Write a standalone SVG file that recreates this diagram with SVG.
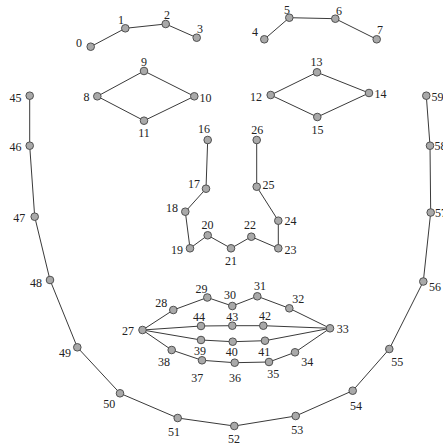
<svg xmlns="http://www.w3.org/2000/svg" width="443" height="448" viewBox="0 0 443 448">
  <style>
    .edge { fill: none; stroke: #3a3a3a; stroke-width: 1; }
    .pt { fill: #a9a9a9; stroke: #505050; stroke-width: 1; }
    .lbl { font-family: "Liberation Serif", "Times New Roman", serif; font-size: 12px; fill: #222; text-anchor: middle; }
    .lbl.s { text-anchor: start; }
  </style>
  <rect width="443" height="448" fill="#fff"/>
  <!-- connectors -->
  <g id="connectors">
    <!-- brows -->
    <polyline class="edge" points="90.7,46.7 125.3,28.3 165.7,24 196.7,37.7"/>
    <polyline class="edge" points="264.3,39.3 289.3,17.7 335.3,18.7 376.7,39.3"/>
    <!-- eyes -->
    <polygon class="edge" points="97.3,96.3 144,71 194.3,96.3 144,120.7"/>
    <polygon class="edge" points="270.7,95 317,72.3 369,93 317.3,117"/>
    <!-- nose -->
    <polyline class="edge" points="207.7,140 206,188.7 185.3,211.7 190,248.3 207.7,235.3 231,248.3 251.3,236.7 278.3,248.3 278.3,220.7 256.7,186.7 256.7,140"/>
    <!-- mouth -->
    <polyline class="edge" points="142.5,330 173.3,310 207.3,297.5 232.3,306 257.3,296.3 289.3,308.3 330,328.3"/>
    <polyline class="edge" points="142.5,330 201,326 232.3,325.7 263.3,325.7 330,328.3"/>
    <polyline class="edge" points="142.5,330 201,340 232.7,341.7 265,340.7 330,328.3"/>
    <polyline class="edge" points="142.5,330 171.7,350 202,360.3 234.7,362.7 269,362 295,352.3 330,328.3"/>
    <!-- jaw -->
    <polyline class="edge" points="29.7,95.7 29.7,145.7 34.7,216.7 50,280 77.3,347.3 120,393.3 177.7,418 234.3,426 295.7,416 352.7,390.7 389.3,349 423.3,281.5 430.7,212.5 430,145.7 426.3,95.7"/>
  </g>
  <g id="n0"><circle class="pt" cx="90.7" cy="46.7" r="3.8"/><text class="lbl" x="79" y="47">0</text></g>
  <g id="n1"><circle class="pt" cx="125.3" cy="28.3" r="3.8"/><text class="lbl" x="121" y="24">1</text></g>
  <g id="n2"><circle class="pt" cx="165.7" cy="24" r="3.8"/><text class="lbl" x="167" y="19">2</text></g>
  <g id="n3"><circle class="pt" cx="196.7" cy="37.7" r="3.8"/><text class="lbl" x="200" y="33">3</text></g>
  <g id="n4"><circle class="pt" cx="264.3" cy="39.3" r="3.8"/><text class="lbl" x="255" y="36">4</text></g>
  <g id="n5"><circle class="pt" cx="289.3" cy="17.7" r="3.8"/><text class="lbl" x="287" y="13.5">5</text></g>
  <g id="n6"><circle class="pt" cx="335.3" cy="18.7" r="3.8"/><text class="lbl" x="339" y="15">6</text></g>
  <g id="n7"><circle class="pt" cx="376.7" cy="39.3" r="3.8"/><text class="lbl" x="380" y="33.5">7</text></g>
  <g id="n8"><circle class="pt" cx="97.3" cy="96.3" r="3.8"/><text class="lbl" x="86.5" y="100.5">8</text></g>
  <g id="n9"><circle class="pt" cx="144" cy="71" r="3.8"/><text class="lbl" x="144" y="66">9</text></g>
  <g id="n10"><circle class="pt" cx="194.3" cy="96.3" r="3.8"/><text class="lbl" x="205.5" y="101.5">10</text></g>
  <g id="n11"><circle class="pt" cx="144" cy="120.7" r="3.8"/><text class="lbl" x="144" y="137">11</text></g>
  <g id="n12"><circle class="pt" cx="270.7" cy="95" r="3.8"/><text class="lbl" x="256" y="101">12</text></g>
  <g id="n13"><circle class="pt" cx="317" cy="72.3" r="3.8"/><text class="lbl" x="316.5" y="66">13</text></g>
  <g id="n14"><circle class="pt" cx="369" cy="93" r="3.8"/><text class="lbl" x="380.5" y="97.5">14</text></g>
  <g id="n15"><circle class="pt" cx="317.3" cy="117" r="3.8"/><text class="lbl" x="317.5" y="134">15</text></g>
  <g id="n16"><circle class="pt" cx="207.7" cy="140" r="3.8"/><text class="lbl" x="204" y="133">16</text></g>
  <g id="n17"><circle class="pt" cx="206" cy="188.7" r="3.8"/><text class="lbl" x="194" y="187.5">17</text></g>
  <g id="n18"><circle class="pt" cx="185.3" cy="211.7" r="3.8"/><text class="lbl" x="172" y="211.5">18</text></g>
  <g id="n19"><circle class="pt" cx="190" cy="248.3" r="3.8"/><text class="lbl" x="177" y="253.5">19</text></g>
  <g id="n20"><circle class="pt" cx="207.7" cy="235.3" r="3.8"/><text class="lbl" x="207.5" y="229">20</text></g>
  <g id="n21"><circle class="pt" cx="231" cy="248.3" r="3.8"/><text class="lbl" x="231" y="265">21</text></g>
  <g id="n22"><circle class="pt" cx="251.3" cy="236.7" r="3.8"/><text class="lbl" x="250" y="229">22</text></g>
  <g id="n23"><circle class="pt" cx="278.3" cy="248.3" r="3.8"/><text class="lbl" x="290.5" y="254">23</text></g>
  <g id="n24"><circle class="pt" cx="278.3" cy="220.7" r="3.8"/><text class="lbl" x="290.5" y="225">24</text></g>
  <g id="n25"><circle class="pt" cx="256.7" cy="186.7" r="3.8"/><text class="lbl" x="268.5" y="188.5">25</text></g>
  <g id="n26"><circle class="pt" cx="256.7" cy="140" r="3.8"/><text class="lbl" x="257.3" y="133.5">26</text></g>
  <g id="n27"><circle class="pt" cx="142.5" cy="330" r="3.8"/><text class="lbl" x="128" y="335">27</text></g>
  <g id="n28"><circle class="pt" cx="173.3" cy="310" r="3.8"/><text class="lbl" x="161.3" y="307.3">28</text></g>
  <g id="n29"><circle class="pt" cx="207.3" cy="297.5" r="3.8"/><text class="lbl" x="201.5" y="292.5">29</text></g>
  <g id="n30"><circle class="pt" cx="232.3" cy="306" r="3.8"/><text class="lbl" x="230" y="298.5">30</text></g>
  <g id="n31"><circle class="pt" cx="257.3" cy="296.3" r="3.8"/><text class="lbl" x="260" y="290">31</text></g>
  <g id="n32"><circle class="pt" cx="289.3" cy="308.3" r="3.8"/><text class="lbl" x="298.3" y="303">32</text></g>
  <g id="n33"><circle class="pt" cx="330" cy="328.3" r="3.8"/><text class="lbl" x="342.7" y="333">33</text></g>
  <g id="n34"><circle class="pt" cx="295" cy="352.3" r="3.8"/><text class="lbl" x="307.3" y="365.7">34</text></g>
  <g id="n35"><circle class="pt" cx="269" cy="362" r="3.8"/><text class="lbl" x="273.3" y="378">35</text></g>
  <g id="n36"><circle class="pt" cx="234.7" cy="362.7" r="3.8"/><text class="lbl" x="235" y="382.3">36</text></g>
  <g id="n37"><circle class="pt" cx="202" cy="360.3" r="3.8"/><text class="lbl" x="197.3" y="382.3">37</text></g>
  <g id="n38"><circle class="pt" cx="171.7" cy="350" r="3.8"/><text class="lbl" x="164" y="365.7">38</text></g>
  <g id="n39"><circle class="pt" cx="201" cy="340" r="3.8"/><text class="lbl" x="200" y="354.7">39</text></g>
  <g id="n40"><circle class="pt" cx="232.7" cy="341.7" r="3.8"/><text class="lbl" x="231.7" y="356.3">40</text></g>
  <g id="n41"><circle class="pt" cx="265" cy="340.7" r="3.8"/><text class="lbl" x="264.3" y="355.7">41</text></g>
  <g id="n42"><circle class="pt" cx="263.3" cy="325.7" r="3.8"/><text class="lbl" x="265" y="320">42</text></g>
  <g id="n43"><circle class="pt" cx="232.3" cy="325.7" r="3.8"/><text class="lbl" x="232.3" y="320.7">43</text></g>
  <g id="n44"><circle class="pt" cx="201" cy="326" r="3.8"/><text class="lbl" x="199" y="320.7">44</text></g>
  <g id="n45"><circle class="pt" cx="29.7" cy="95.7" r="3.8"/><text class="lbl" x="15.5" y="102">45</text></g>
  <g id="n46"><circle class="pt" cx="29.7" cy="145.7" r="3.8"/><text class="lbl" x="15.5" y="151">46</text></g>
  <g id="n47"><circle class="pt" cx="34.7" cy="216.7" r="3.8"/><text class="lbl" x="19.3" y="221.7">47</text></g>
  <g id="n48"><circle class="pt" cx="50" cy="280" r="3.8"/><text class="lbl" x="36" y="287.3">48</text></g>
  <g id="n49"><circle class="pt" cx="77.3" cy="347.3" r="3.8"/><text class="lbl" x="65" y="357.3">49</text></g>
  <g id="n50"><circle class="pt" cx="120" cy="393.3" r="3.8"/><text class="lbl" x="109.3" y="408.3">50</text></g>
  <g id="n51"><circle class="pt" cx="177.7" cy="418" r="3.8"/><text class="lbl" x="174" y="435.7">51</text></g>
  <g id="n52"><circle class="pt" cx="234.3" cy="426" r="3.8"/><text class="lbl" x="234" y="443.3">52</text></g>
  <g id="n53"><circle class="pt" cx="295.7" cy="416" r="3.8"/><text class="lbl" x="297.3" y="434">53</text></g>
  <g id="n54"><circle class="pt" cx="352.7" cy="390.7" r="3.8"/><text class="lbl" x="356" y="409.7">54</text></g>
  <g id="n55"><circle class="pt" cx="389.3" cy="349" r="3.8"/><text class="lbl" x="397.3" y="365.7">55</text></g>
  <g id="n56"><circle class="pt" cx="423.3" cy="281.5" r="3.8"/><text class="lbl s" x="429" y="291">56</text></g>
  <g id="n57"><circle class="pt" cx="430.7" cy="212.5" r="3.8"/><text class="lbl s" x="435" y="217">57</text></g>
  <g id="n58"><circle class="pt" cx="430" cy="145.7" r="3.8"/><text class="lbl s" x="434.5" y="150">58</text></g>
  <g id="n59"><circle class="pt" cx="426.3" cy="95.7" r="3.8"/><text class="lbl s" x="431.5" y="100.5">59</text></g>
</svg>
